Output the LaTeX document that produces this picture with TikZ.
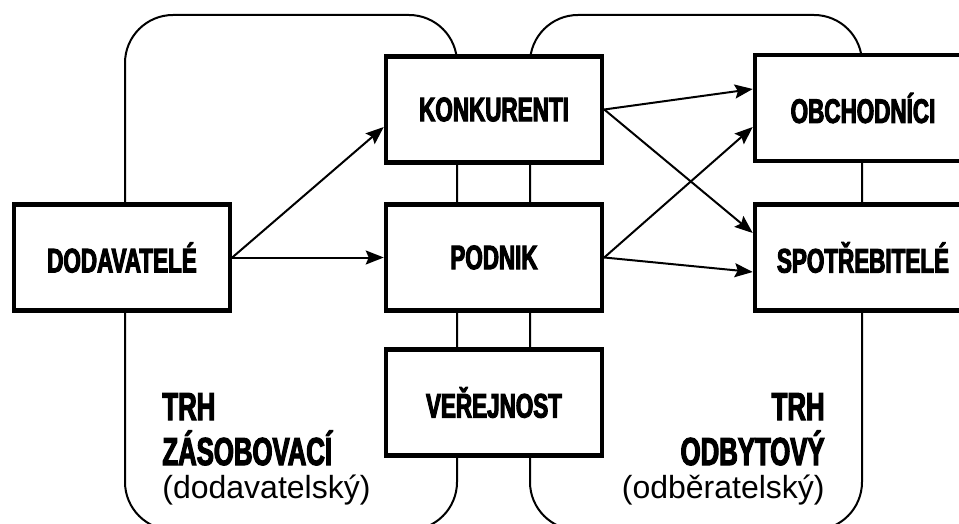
\documentclass[tikz,border=0pt]{standalone}
\usepackage{fontspec}
\setmainfont{Liberation Sans}
\newfontfamily\boxfont{Liberation Sans}[FakeStretch=0.66, BoldFeatures={FakeBold=3}]
\usetikzlibrary{arrows.meta}

\begin{document}
\begin{tikzpicture}
    [x=0.5pt, y=-0.5pt,
    TrhBox/.style={draw=black, line width=1pt, rounded corners=24pt},
    FirmNode/.style={rectangle, draw=black, line width=2.25pt, fill=white,
        minimum width=108pt, minimum height=53pt, inner sep=0pt,
        font=\boxfont\bfseries\fontsize{17}{19}\selectfont},
    TrhLabel/.style={inner sep=0pt, font=\boxfont\bfseries\fontsize{19.5}{21}\selectfont},
    SubLabel/.style={inner sep=0pt, font=\fontsize{16}{18}\selectfont},
    FlowArrow/.style={-{Stealth[length=9pt, width=7pt, inset=1.5pt]}, line width=1pt}]
    \useasboundingbox (0, 0) rectangle (959, 524);
    \clip (0, 0) rectangle (959, 524);
    % the two markets
    \draw[TrhBox] (125, 15) rectangle (457, 530);
    \draw[TrhBox] (530, 15) rectangle (862, 530);
    % firms and groups
    \node[FirmNode] (dod) at (122, 257.5){DODAVATELÉ};
    \node[FirmNode] (konk) at (494, 109.5){KONKURENTI};
    \node[FirmNode] (pod) at (494, 257.5){PODNIK};
    \node[FirmNode] (ver) at (494, 402.5){VEŘEJNOST};
    \node[FirmNode] (obch) at (863, 108){OBCHODNÍCI};
    \node[FirmNode] (spot) at (863, 257.5){SPOTŘEBITELÉ};
    % market names
    \node[TrhLabel, anchor=base west] (zas1) at (162, 420){TRH};
    \node[TrhLabel, anchor=base west] (zas2) at (162, 465){ZÁSOBOVACÍ};
    \node[SubLabel, anchor=base west] (zas3) at (162, 498){(dodavatelský)};
    \node[TrhLabel, anchor=base east] (odb1) at (825, 420){TRH};
    \node[TrhLabel, anchor=base east] (odb2) at (825, 465){ODBYTOVÝ};
    \node[SubLabel, anchor=base east] (odb3) at (825, 498){(odběratelský)};
    % flows
    \draw[FlowArrow] (dod.east) -- ([yshift=-8.75pt]konk.west);
    \draw[FlowArrow] (dod.east) -- (pod.west);
    \draw[FlowArrow] (konk.east) -- ([yshift=9.5pt]obch.west);
    \draw[FlowArrow] (konk.east) -- ([yshift=12.25pt]spot.west);
    \draw[FlowArrow] (pod.east) -- ([yshift=-9.5pt]obch.west);
    \draw[FlowArrow] (pod.east) -- ([yshift=-7.25pt]spot.west);
    \end{tikzpicture}
\end{document}
